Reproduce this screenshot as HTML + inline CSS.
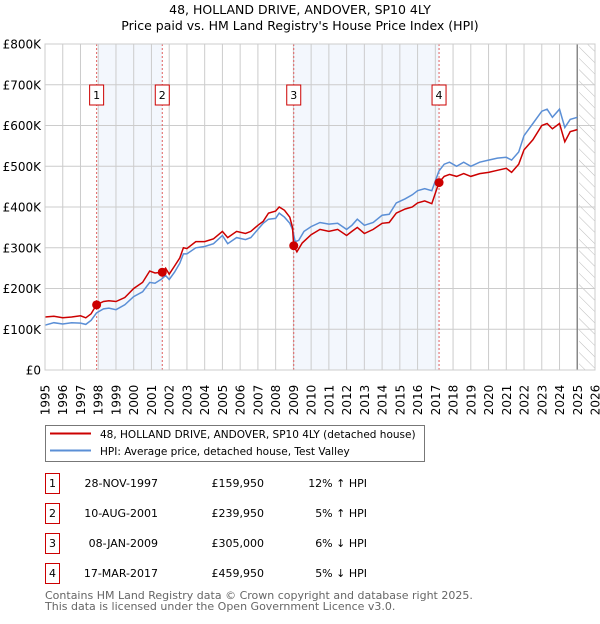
<!DOCTYPE html>
<html><head><meta charset="utf-8"><style>
body{margin:0;background:#fff;width:600px;height:620px;overflow:hidden;font-family:"DejaVu Sans","Liberation Sans",sans-serif}
svg text{font-family:"DejaVu Sans","Liberation Sans",sans-serif}
</style></head><body>
<svg id="c" width="600" height="620"></svg>
<script>
const years=[1995,1996,1997,1998,1999,2000,2001,2002,2003,2004,2005,2006,2007,2008,2009,2010,2011,2012,2013,2014,2015,2016,2017,2018,2019,2020,2021,2022,2023,2024,2025,2026];
const yTicks=[0,100,200,300,400,500,600,700,800];
const yTickLabels=["£0","£100K","£200K","£300K","£400K","£500K","£600K","£700K","£800K"];
const redT=[1995,1995.5,1996,1996.5,1997,1997.3,1997.6,1997.9,1998.3,1998.6,1999,1999.5,2000,2000.5,2000.9,2001.2,2001.6,2001.8,2002,2002.3,2002.6,2002.8,2003,2003.5,2004,2004.5,2005,2005.3,2005.8,2006.3,2006.6,2007,2007.3,2007.6,2008,2008.2,2008.5,2008.8,2008.95,2009.02,2009.2,2009.5,2010,2010.5,2011,2011.5,2012,2012.3,2012.6,2013,2013.5,2014,2014.4,2014.8,2015.3,2015.7,2016,2016.4,2016.8,2017.2,2017.5,2017.8,2018.2,2018.6,2019,2019.5,2020,2020.5,2021,2021.3,2021.7,2022,2022.5,2023,2023.3,2023.6,2024,2024.3,2024.6,2025];
const redV=[130,132,128,130,133,128,138,160,168,170,168,178,200,215,243,238,240,250,235,255,275,300,298,315,315,322,340,325,340,335,340,355,365,385,390,400,392,375,350,305,290,312,332,345,340,345,330,340,350,335,345,360,362,385,395,400,410,415,408,460,475,480,475,482,475,482,485,490,495,485,505,540,565,600,605,592,605,560,585,590];
const blueT=[1995,1995.5,1996,1996.5,1997,1997.3,1997.6,1997.9,1998.3,1998.6,1999,1999.5,2000,2000.5,2000.9,2001.2,2001.6,2001.8,2002,2002.3,2002.6,2002.8,2003,2003.5,2004,2004.5,2005,2005.3,2005.8,2006.3,2006.6,2007,2007.3,2007.6,2008,2008.2,2008.5,2008.8,2008.95,2009.1,2009.3,2009.6,2010,2010.5,2011,2011.5,2012,2012.3,2012.6,2013,2013.5,2014,2014.4,2014.8,2015.3,2015.7,2016,2016.4,2016.8,2017.2,2017.5,2017.8,2018.2,2018.6,2019,2019.5,2020,2020.5,2021,2021.3,2021.7,2022,2022.5,2023,2023.3,2023.6,2024,2024.3,2024.6,2025];
const blueV=[110,116,113,116,115,112,122,140,150,152,148,160,180,192,215,213,224,232,222,240,262,285,285,300,303,310,330,310,325,320,325,345,360,370,372,385,375,360,345,315,318,340,352,362,358,360,345,355,370,355,362,380,382,410,420,430,440,445,440,488,505,510,500,510,500,510,515,520,522,515,535,575,605,635,640,620,640,595,615,620];
const sales=[[1997.91,159.95,"1"],[2001.61,239.95,"2"],[2009.02,305,"3"],[2017.21,459.95,"4"]];
const NS="http://www.w3.org/2000/svg",svg=document.getElementById('c');
const x=t=>45+(t-1995)*550/31, y=v=>370-v*326/800;
function el(tag,a,p){const e=document.createElementNS(NS,tag);for(const k in a)e.setAttribute(k,a[k]);(p||svg).appendChild(e);return e;}
let t=el('text',{x:300,y:14,'text-anchor':'middle','font-size':12.5,fill:'#000'});t.textContent="48, HOLLAND DRIVE, ANDOVER, SP10 4LY";

t=el('text',{x:300,y:30,'text-anchor':'middle','font-size':12.5,fill:'#000'});t.textContent="Price paid vs. HM Land Registry's House Price Index (HPI)";

let r=el('rect',{x:x(1998),y:y(800),width:x(2001.61)-x(1998),height:326,fill:'#eef3fc',opacity:0.7});

r=el('rect',{x:x(2009.02),y:y(800),width:x(2017.21)-x(2009.02),height:326,fill:'#eef3fc',opacity:0.7});

const defs=el('defs',{});const pat=el('pattern',{id:'h',width:8,height:8,patternUnits:'userSpaceOnUse',patternTransform:'rotate(-45)'},defs);
el('line',{x1:0,y1:0,x2:0,y2:8,stroke:'#bbb','stroke-width':1},pat);
r=el('rect',{x:x(2025.1),y:y(800),width:595-x(2025.1),height:326,fill:'url(#h)'});

yTicks.forEach((v,i)=>{const l=el('line',{x1:45,x2:595,y1:y(v),y2:y(v),stroke:'#ccc','stroke-width':1});

const tx=el('text',{x:41,y:y(v)+4.5,'text-anchor':'end','font-size':12,fill:'#000'});tx.textContent=yTickLabels[i];
});
years.forEach(yr=>{const l=el('line',{x1:x(yr),x2:x(yr),y1:y(800),y2:370,stroke:'#ccc','stroke-width':1});

const tx=el('text',{transform:`translate(${x(yr)+4.5},${400}) rotate(-90)`,'text-anchor':'middle','font-size':12,fill:'#000'});tx.textContent=yr;
});
let vl=el('line',{x1:x(2025),x2:x(2025),y1:y(800),y2:370,stroke:'#888','stroke-width':1.5});

sales.forEach(s=>{const l=el('line',{x1:x(s[0]),x2:x(s[0]),y1:y(800),y2:370,stroke:'#e06060','stroke-width':1,'stroke-dasharray':'2,2'});
});
function path(ts,vs,c,name){const p=el('path',{d:ts.map((tt,i)=>(i?'L':'M')+x(tt).toFixed(1)+','+y(vs[i]).toFixed(1)).join(''),fill:'none',stroke:c,'stroke-width':1.5});
}
path(blueT,blueV,'#5b8fd6','hpi-line');
path(redT,redV,'#cc0000','price-paid-line');
sales.forEach(s=>{const c=el('circle',{cx:x(s[0]),cy:y(s[1]),r:4.5,fill:'#cc0000'});

const b=el('rect',{x:x(s[0])-7,y:85,width:14,height:20,fill:'#fff',stroke:'#cc0000','stroke-width':1});

const tx=el('text',{x:x(s[0]),y:99,'text-anchor':'middle','font-size':11,fill:'#000'});tx.textContent=s[2];
});
let ax=el('rect',{x:45,y:y(800),width:550,height:326,fill:'none',stroke:'#ccc'});

const lg=el('rect',{x:45.5,y:425.5,width:379,height:36,fill:'#fff',stroke:'#777'});

[['#cc0000',434,"48, HOLLAND DRIVE, ANDOVER, SP10 4LY (detached house)",'legend-entry-price'],['#5b8fd6',451,"HPI: Average price, detached house, Test Valley",'legend-entry-hpi']].forEach(e=>{
const l=el('line',{x1:50,x2:91,y1:e[1]-0.5,y2:e[1]-0.5,stroke:e[0],'stroke-width':2});
const tx=el('text',{x:100,y:e[1]+4,'font-size':10.5,fill:'#000'});tx.textContent=e[2];});
const rows=[["1","28-NOV-1997","£159,950","12% ↑ HPI"],["2","10-AUG-2001","£239,950","5% ↑ HPI"],["3","08-JAN-2009","£305,000","6% ↓ HPI"],["4","17-MAR-2017","£459,950","5% ↓ HPI"]];
rows.forEach((rw,i)=>{const cy=483+i*30;
const b=el('rect',{x:45.5,y:cy-9.5,width:14,height:20,fill:'#fff',stroke:'#cc0000'});
const cells=[[52.5,'middle',rw[0]],[158,'end',rw[1]],[264,'end',rw[2]],[367,'end',rw[3]]];
cells.forEach((c,j)=>{const tx=el('text',{x:c[0],y:cy+4,'text-anchor':c[1],'font-size':11,fill:'#000'});tx.textContent=c[2];
});});
[["Contains HM Land Registry data © Crown copyright and database right 2025.",599],["This data is licensed under the Open Government Licence v3.0.",610]].forEach(f=>{
const tx=el('text',{x:45,y:f[1],'font-size':11,fill:'#666'});tx.textContent=f[0];});
</script>
</body></html>
